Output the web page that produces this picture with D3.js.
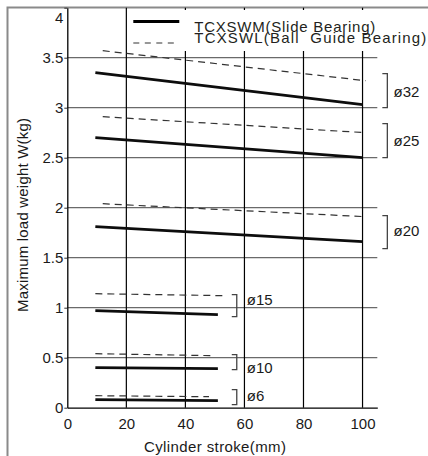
<!DOCTYPE html>
<html>
<head>
<meta charset="utf-8">
<script src="https://cdn.jsdelivr.net/npm/d3@7"></script>
<style>
  html, body { margin:0; padding:0; background:#fff; }
  svg { display:block; font-family:"Liberation Sans", Arial, sans-serif; }
</style>
</head>
<body>
<div id="chart"></div>
<script>
// Bore sizes and their load curves (stroke in mm, load in kg)
const bores       = ['ø32', 'ø25', 'ø20', 'ø15', 'ø10', 'ø6'];
const slideFrom   = [9.5, 9.5, 9.5, 9.5, 9.5, 9.5];
const slideTo     = [100, 100, 100, 51, 51, 51];
const slideStart  = [3.35, 2.70, 1.81, 0.97, 0.40, 0.08];
const slideEnd    = [3.03, 2.50, 1.66, 0.93, 0.39, 0.07];
const ballFrom    = [12, 12, 12, 9.5, 9.5, 9.5];
const ballTo      = [101, 101, 101, 54, 50, 48];
const ballStart   = [3.57, 2.91, 2.04, 1.14, 0.54, 0.12];
const ballEnd     = [3.27, 2.75, 1.91, 1.12, 0.52, 0.11];

// Bracket spans and label anchors next to each bore group
const bracketTop    = [3.34, 2.84, 1.92, 1.13, 0.53, 0.18];
const bracketBottom = [3.00, 2.50, 1.59, 0.91, 0.38, 0.03];
const bracketX      = [108.4, 108.4, 108.4, 57.4, 57.4, 57.4];
const labelX        = [110.5, 110.5, 110.5, 60.8, 60.8, 60.8];
const labelY        = [3.11, 2.62, 1.72, 1.03, 0.35, 0.07];

const xTicks = [0, 20, 40, 60, 80, 100];
const yTicks = [0, 0.5, 1, 1.5, 2, 2.5, 3, 3.5, 4];
const legendLabels = ['TCXSWM(Slide Bearing)', 'TCXSWL(Ball  Guide Bearing)'];

const width = 428, height = 456;

const svg = d3.select('#chart').append('svg')
  .attr('width', width).attr('height', height);

const x = d3.scaleLinear().domain([0, 105]).range([67.3, 377.3]);
const y = d3.scaleLinear().domain([0, 4]).range([407.7, 7.7]);

// Outer frame (only top and left edges fall inside the picture)
svg.append('path')
  .attr('d', `M7.5,${height} V7.5 H${width}`)
  .attr('fill', 'none').attr('stroke', '#8a8a8a').attr('stroke-width', 2);

// Horizontal grid
svg.append('g').selectAll('line')
  .data(yTicks.filter(d => d > 0 && d < 4))
  .join('line')
  .attr('x1', x(0)).attr('x2', x(105))
  .attr('y1', d => y(d)).attr('y2', d => y(d))
  .attr('stroke', '#6a6a6a').attr('stroke-width', 1.3);

// Vertical grid
svg.append('g').selectAll('line')
  .data(xTicks.filter(d => d > 0))
  .join('line')
  .attr('x1', d => x(d)).attr('x2', d => x(d))
  .attr('y1', y(0)).attr('y2', y(4))
  .attr('stroke', '#000').attr('stroke-width', 1.2);

// Axes
const xAxis = svg.append('g')
  .attr('transform', `translate(0,${y(0)})`)
  .call(d3.axisBottom(x).tickValues(xTicks).tickSize(0).tickPadding(10.6).tickSizeOuter(0));
xAxis.select('.domain').attr('stroke', '#000').attr('stroke-width', 1.3);
xAxis.selectAll('text').attr('font-size', 15).attr('fill', '#1a1a1a')
  .attr('font-family', '"Liberation Sans", Arial, sans-serif');

const yAxis = svg.append('g')
  .attr('transform', `translate(${x(0)},0)`)
  .call(d3.axisLeft(y).tickValues(yTicks).tickSize(3).tickPadding(1).tickSizeOuter(0).tickFormat(d => String(d)));
yAxis.select('.domain').attr('stroke', '#000').attr('stroke-width', 1.3);
yAxis.selectAll('.tick line').attr('stroke', '#333');
yAxis.selectAll('text').attr('font-size', 15).attr('fill', '#1a1a1a')
  .attr('font-family', '"Liberation Sans", Arial, sans-serif')
  .attr('dy', d => d === 4 ? '1.0em' : '0.32em');

// Legend box hides the grid behind it
svg.append('rect').attr('x', 129).attr('y', 10).attr('width', width - 129).attr('height', 41).attr('fill', '#fff');

// Load lines
const line = d3.line().x(d => x(d[0])).y(d => y(d[1]));

svg.append('g').selectAll('path')
  .data(bores.map((b, i) => [[ballFrom[i], ballStart[i]], [ballTo[i], ballEnd[i]]]))
  .join('path')
  .attr('d', line)
  .attr('fill', 'none').attr('stroke', '#333').attr('stroke-width', 1.2)
  .attr('stroke-dasharray', '7,5');

svg.append('g').selectAll('path')
  .data(bores.map((b, i) => [[slideFrom[i], slideStart[i]], [slideTo[i], slideEnd[i]]]))
  .join('path')
  .attr('d', line)
  .attr('fill', 'none').attr('stroke', '#0d0d0d').attr('stroke-width', 2.7);

// Bore brackets + labels
const brackets = svg.append('g');
bores.forEach((b, i) => {
  const bx = x(bracketX[i]);
  brackets.append('path')
    .attr('d', `M${bx - 5},${y(bracketTop[i])} H${bx} V${y(bracketBottom[i])} H${bx - 5}`)
    .attr('fill', 'none').attr('stroke', '#444').attr('stroke-width', 1.3);
  brackets.append('text')
    .attr('x', x(labelX[i])).attr('y', y(labelY[i]))
    .attr('font-size', 15).attr('fill', '#1a1a1a')
    .text(b);
});

// Legend
const legend = svg.append('g');
legend.append('line')
  .attr('x1', 133.3).attr('x2', 179.3).attr('y1', 21.5).attr('y2', 21.5)
  .attr('stroke', '#000').attr('stroke-width', 2.8);
legend.append('line')
  .attr('x1', 133.3).attr('x2', 179.3).attr('y1', 43).attr('y2', 43)
  .attr('stroke', '#333').attr('stroke-width', 1.2).attr('stroke-dasharray', '6,5.5');
legend.append('text')
  .attr('x', 194.3).attr('y', 31.7).attr('font-size', 15).attr('fill', '#231f20')
  .attr('textLength', 181).attr('lengthAdjust', 'spacing')
  .text(legendLabels[0]);
legend.append('text')
  .attr('x', 194.3).attr('y', 43.3).attr('font-size', 15).attr('fill', '#231f20')
  .attr('textLength', 232).attr('lengthAdjust', 'spacing')
  .style('white-space', 'pre')
  .text(legendLabels[1]);

// Axis titles
svg.append('text')
  .attr('transform', 'translate(28,215) rotate(-90)')
  .attr('text-anchor', 'middle')
  .attr('font-size', 15).attr('fill', '#1a1a1a')
  .attr('textLength', 194).attr('lengthAdjust', 'spacing')
  .text('Maximum load weight W(kg)');

svg.append('text')
  .attr('x', 215).attr('y', 451.5)
  .attr('text-anchor', 'middle')
  .attr('font-size', 15).attr('fill', '#1a1a1a')
  .attr('textLength', 142).attr('lengthAdjust', 'spacing')
  .text('Cylinder stroke(mm)');
</script>
</body>
</html>
